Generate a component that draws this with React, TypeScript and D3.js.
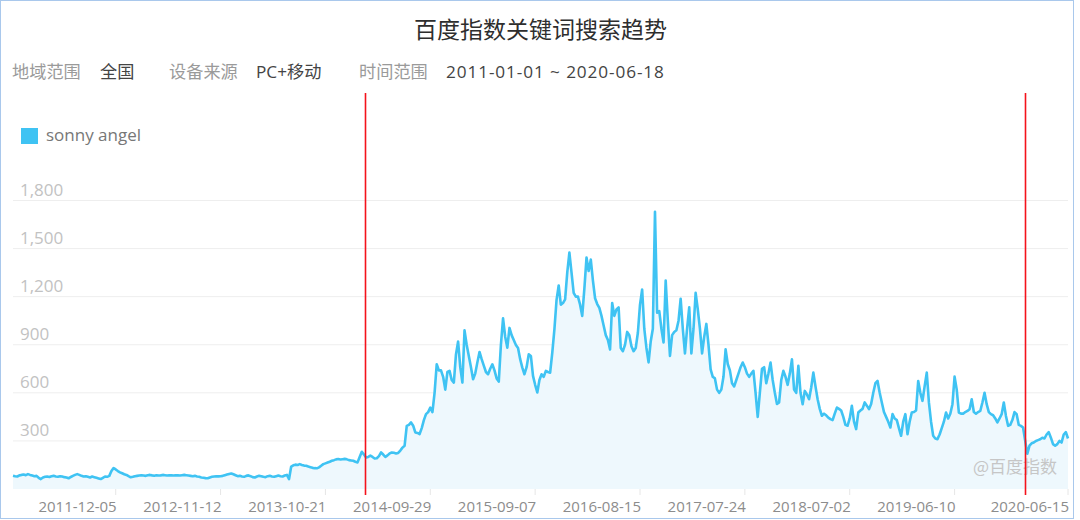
import React from 'react';
import * as d3 from 'd3';

const START_DATE = '2011-01-03';
const TITLE = '百度指数关键词搜索趋势';
const SERIES_NAME = 'sonny angel';
const FILTER_KEYS = ['地域范围', '设备来源', '时间范围'];
const FILTER_VALUES = ['全国', 'PC+移动', '2011-01-01 ~ 2020-06-18'];
const WATERMARK = '@百度指数';

// weekly search index, 2011-01-03 .. 2020-06-15
const VALUES_2011_2013 = [
  83, 80, 78, 85, 88, 90, 86, 93, 88, 84,
  80, 82, 70, 62, 72, 76, 78, 75, 80, 82,
  78, 76, 80, 78, 74, 72, 67, 75, 82, 88,
  93, 88, 82, 78, 80, 76, 72, 78, 74, 70,
  66, 62, 70, 78, 76, 82, 112, 131, 122, 112,
  104, 98, 92, 88, 80, 73, 76, 80, 82, 84,
  86, 84, 82, 86, 88, 85, 83, 86, 84, 85,
  88, 86, 84, 85, 86, 84, 86, 85, 84, 86,
  88, 86, 84, 82, 80, 82, 78, 76, 72, 70,
  68, 67, 72, 76, 78, 80, 79, 80, 82, 86,
  90, 94, 97, 92, 86, 80, 82, 78, 76, 82,
  85, 80, 74, 72, 78, 82, 80, 76, 74, 80,
  82, 78, 76, 80, 84, 80, 78, 84, 88, 62,
];
const VALUES_2013_2014 = [
  140, 148, 152, 150, 155, 150, 146, 145, 140, 136,
  132, 130, 129, 135, 145, 155, 160, 165, 170, 176,
  180, 185, 187, 184, 186, 188, 185, 180, 178, 176,
  170, 166, 200, 232, 215, 197, 200, 208, 200, 190,
  192, 205, 228, 215, 200, 210, 222, 228, 226, 222,
  225, 240, 258, 270, 394, 400, 415, 395, 353, 350,
  343, 380, 430, 467, 480, 508, 480, 600, 778, 740,
];
const VALUES_2014_2016 = [
  740, 700, 620, 730, 737, 680, 664, 840, 920, 760,
  664, 990, 900, 830, 760, 685, 720, 790, 855, 810,
  770, 730, 716, 750, 778, 740, 690, 670, 900, 1065,
  950, 882, 1005, 960, 930, 899, 880, 810, 757, 716,
  760, 840, 830, 706, 650, 602, 680, 716, 700, 737,
  730, 726, 850, 996, 1180, 1270, 1150, 1160, 1183, 1350,
  1475, 1350, 1224, 1200, 1200, 1150, 1080, 1250, 1444, 1360,
  1431, 1300, 1190, 1154, 1130, 1080, 1020, 960, 930, 870,
];
const VALUES_2016_2020 = [
  1160, 1080, 1120, 1133, 880, 860, 900, 980, 960, 891,
  860, 880, 975, 1150, 1245, 1000, 880, 790, 920, 1000,
  1730, 1100, 1110, 1000, 914, 1300, 1050, 830, 960, 980,
  990, 1050, 1187, 1000, 846, 1000, 1133, 846, 1000, 1224,
  1120, 1000, 846, 950, 1030, 900, 747, 700, 690, 620,
  600, 620, 700, 871, 780, 740, 660, 640, 680, 720,
  760, 789, 760, 720, 700, 720, 737, 600, 450, 600,
  750, 760, 660, 720, 789, 680, 600, 530, 540, 680,
  737, 700, 650, 720, 809, 620, 600, 768, 600, 529,
  612, 590, 560, 633, 726, 640, 560, 500, 457, 470,
  460, 445, 436, 430, 470, 508, 500, 490, 450, 400,
  395, 440, 519, 420, 374, 477, 490, 500, 540, 520,
  498, 530, 600, 660, 674, 600, 540, 480, 450, 420,
  384, 467, 440, 430, 380, 332, 420, 467, 342, 420,
  477, 480, 490, 674, 600, 550, 640, 726, 540, 420,
  332, 315, 311, 340, 380, 420, 477, 440, 470, 529,
  701, 620, 477, 470, 470, 480, 487, 498, 560, 480,
  470, 480, 487, 540, 600, 529, 480, 467, 460, 440,
  415, 440, 467, 540, 456, 394, 400, 430, 480, 467,
  400, 394, 384, 300, 220, 270, 285, 290, 300, 305,
  310, 320, 315, 340, 355, 320, 280, 270, 280, 300,
  290, 340, 355, 315,
];

const X_TICK_LABELS = [
  '2011-12-05', '2012-11-12', '2013-10-21', '2014-09-29', '2015-09-07',
  '2016-08-15', '2017-07-24', '2018-07-02', '2019-06-10', '2020-06-15',
];
const Y_TICKS = [300, 600, 900, 1200, 1500, 1800];
const MARKER_DATES = ['2014-02-27', '2020-01-27'];

const W = 1080;
const H = 520;
const LINE_COLOR = '#3fc3f3';
const FONT = "'Open Sans', 'Noto Sans CJK SC', sans-serif";
const CJK = "'Noto Sans CJK SC', sans-serif";

export default function App() {
  const parse = d3.utcParse('%Y-%m-%d');
  const start = parse(START_DATE) as Date;
  const values = [...VALUES_2011_2013, ...VALUES_2013_2014, ...VALUES_2014_2016, ...VALUES_2016_2020];
  const data = values.map((v, i) => ({ date: d3.utcDay.offset(start, i * 7), value: v }));
  const last = data[data.length - 1].date;

  const x = d3.scaleUtc().domain([start, last]).range([13, 1068]);
  const y = d3.scaleLinear().domain([0, 1800]).range([489, 200.5]);

  const line = d3.line<{ date: Date; value: number }>()
    .x(d => x(d.date))
    .y(d => y(d.value));
  const area = d3.area<{ date: Date; value: number }>()
    .x(d => x(d.date))
    .y0(y(0))
    .y1(d => y(d.value));

  const groupX = [12, 169, 359];
  const valueX = [100, 256, 446];
  const valueSpacing = [0, 0, 0.9];

  return (
    <svg width={W} height={H} style={{ position: 'absolute', left: 0, top: 0, background: '#fff' }}>
      <rect x={0.5} y={0.5} width={1073} height={518} fill="#fff" stroke="#a9c8ec" strokeWidth={1} />
      <text x={540.5} y={38} textAnchor="middle" fontFamily={CJK} fontSize={23} fill="#2e2e2e">{TITLE}</text>
      {FILTER_KEYS.map((k, i) => (
        <g key={k}>
          <text x={groupX[i]} y={78} fontFamily={CJK} fontSize={17.2} fill="#9a9a9a">{k}</text>
          <text x={valueX[i]} y={78} fontFamily={FONT} fontSize={17.2} letterSpacing={valueSpacing[i]} fill="#444">{FILTER_VALUES[i]}</text>
        </g>
      ))}
      <rect x={21} y={128} width={17} height={16} fill={LINE_COLOR} />
      <text x={46} y={141} fontFamily={FONT} fontSize={17} fill="#777">{SERIES_NAME}</text>

      {Y_TICKS.map(t => (
        <g key={t}>
          <line x1={13} x2={1068} y1={y(t)} y2={y(t)} stroke="#eeeeee" strokeWidth={1} />
          <text x={20} y={y(t) - 5} fontFamily={FONT} fontSize={17} fill="#c2c2c2">{d3.format(',')(t)}</text>
        </g>
      ))}

      <path d={area(data) || ''} fill="#eef8fd" />
      <path d={line(data) || ''} fill="none" stroke={LINE_COLOR} strokeWidth={2.6} strokeLinejoin="round" />

      {X_TICK_LABELS.map(l => {
        const tx = x(parse(l) as Date);
        return (
          <g key={l}>
            <line x1={tx} x2={tx} y1={489} y2={495} stroke="#e6e6e6" strokeWidth={1} />
            <text x={tx + 1} y={512} textAnchor="end" fontFamily={FONT} fontSize={15} fill="#8c8c8c">{l}</text>
          </g>
        );
      })}

      <text x={1057} y={473} textAnchor="end" fontFamily={CJK} fontSize={17} fill="#c6c6c6">{WATERMARK}</text>

      {MARKER_DATES.map(m => {
        const mx = Math.round(x(parse(m) as Date)) + 0.5;
        return <line key={m} x1={mx} x2={mx} y1={93} y2={495} stroke="#f4121b" strokeWidth={1.6} />;
      })}
    </svg>
  );
}
